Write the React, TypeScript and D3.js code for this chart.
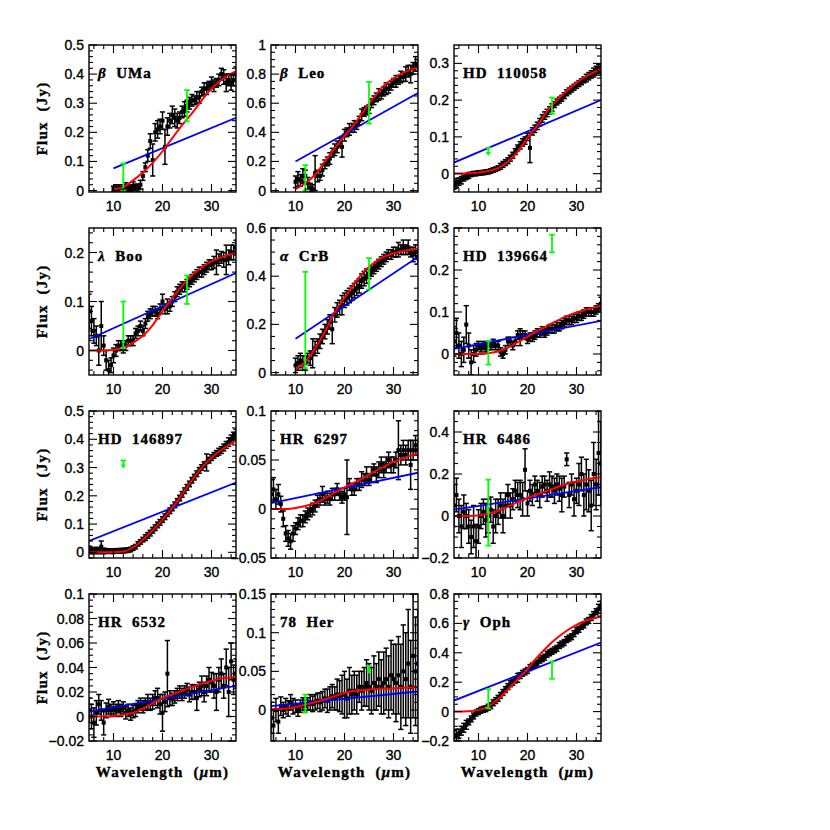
import React from 'react';
import * as d3 from 'd3';

// wavelength grid of the IRS spectra (micron)
const WL = [
  5, 5.5, 6, 6.5, 7, 7.5, 8, 8.5, 9, 9.5,
  10, 10.5, 11, 11.5, 12, 12.5, 13, 13.5, 14, 14.5,
  15, 15.5, 16, 16.5, 17, 17.5, 18, 18.5, 19, 19.5,
  20, 20.5, 21, 21.5, 22, 22.5, 23, 23.5, 24, 24.5,
  25, 25.5, 26, 26.5, 27, 27.5, 28, 28.5, 29, 29.5,
  30, 30.5, 31, 31.5, 32, 32.5, 33, 33.5, 34, 34.5,
  35,
];
// wavelengths where the red model curve is sampled
const MODEL_WL = [5, 8, 10, 12, 14, 16, 18, 20, 22, 24, 26, 28, 30, 32, 35];
// IRAS photometry bands
const IRAS_WL = [12, 25];
const X_MAJOR = [10, 20, 30];

// --- beta UMa (spectrum from 10 um)
const umaFlux = [
  0.005, 0.008, 0.01, 0.005, 0.008, 0.012, 0.01, 0.008, 0.015, 0.012,
  0.01, 0.02, 0.05, 0.08, 0.12, 0.17, 0.105, 0.2, 0.21, 0.22,
  0.24, 0.15, 0.22, 0.24, 0.26, 0.25, 0.24, 0.25, 0.27, 0.28,
  0.29, 0.3, 0.31, 0.31, 0.32, 0.32, 0.34, 0.35, 0.35, 0.36,
  0.37, 0.36, 0.37, 0.38, 0.4, 0.39, 0.37, 0.38, 0.37, 0.38,
  0.4,
];
const umaErr = [
  0.01, 0.012, 0.01, 0.01, 0.012, 0.015, 0.01, 0.012, 0.015, 0.01,
  0.012, 0.015, 0.015, 0.015, 0.02, 0.025, 0.055, 0.03, 0.03, 0.025,
  0.03, 0.06, 0.03, 0.025, 0.03, 0.03, 0.025, 0.02, 0.02, 0.025,
  0.02, 0.02, 0.02, 0.015, 0.02, 0.02, 0.015, 0.02, 0.02, 0.015,
  0.02, 0.02, 0.015, 0.02, 0.02, 0.025, 0.03, 0.02, 0.025, 0.02,
  0.025,
];
const umaModel = [0.005, 0.012, 0.035, 0.062, 0.095, 0.135, 0.18, 0.225, 0.265, 0.31, 0.35, 0.38, 0.41];
const umaLine = [0.076, 0.25];
const umaIras = [[0, 0.093], [0.238, 0.345]];

// --- beta Leo (from 10 um)
const leoFlux = [
  0.06, 0.08, 0.07, 0.1, 0.1, 0.05, 0.02, 0.01, 0.12, 0.1,
  0.1, 0.14, 0.18, 0.2, 0.22, 0.26, 0.28, 0.3, 0.33, 0.3,
  0.38, 0.4, 0.42, 0.43, 0.44, 0.45, 0.48, 0.52, 0.54, 0.55,
  0.56, 0.6, 0.62, 0.64, 0.66, 0.66, 0.68, 0.7, 0.7, 0.72,
  0.74, 0.75, 0.76, 0.78, 0.78, 0.8, 0.82, 0.8, 0.84, 0.87,
  0.86,
];
const leoErr = [
  0.04, 0.05, 0.04, 0.05, 0.04, 0.04, 0.03, 0.03, 0.12, 0.04,
  0.03, 0.04, 0.03, 0.03, 0.04, 0.03, 0.04, 0.04, 0.03, 0.07,
  0.04, 0.03, 0.04, 0.03, 0.04, 0.03, 0.03, 0.04, 0.03, 0.03,
  0.03, 0.03, 0.03, 0.03, 0.04, 0.03, 0.03, 0.04, 0.03, 0.03,
  0.03, 0.04, 0.03, 0.04, 0.03, 0.05, 0.04, 0.06, 0.04, 0.05,
  0.04,
];
const leoModel = [0.01, 0.05, 0.11, 0.2, 0.29, 0.375, 0.455, 0.55, 0.64, 0.72, 0.77, 0.81, 0.845];
const leoLine = [0.2, 0.67];
const leoIras = [[0, 0.174], [0.46, 0.746]];

// --- HD 110058
const hd110058Flux = [
  -0.03, -0.025, -0.022, -0.018, -0.012, -0.008, -0.005, -0.002, 0, 0,
  0.002, 0.002, 0.003, 0.004, 0.005, 0.007, 0.01, 0.012, 0.015, 0.02,
  0.025, 0.03, 0.035, 0.042, 0.05, 0.06, 0.07, 0.077, 0.085, 0.09,
  0.1, 0.07, 0.115, 0.122, 0.13, 0.14, 0.15, 0.158, 0.165, 0.172,
  0.18, 0.188, 0.195, 0.2, 0.205, 0.212, 0.22, 0.225, 0.23, 0.235,
  0.24, 0.245, 0.25, 0.255, 0.26, 0.265, 0.27, 0.275, 0.28, 0.285,
  0.28,
];
const hd110058Err = [
  0.012, 0.012, 0.01, 0.01, 0.008, 0.008, 0.008, 0.006, 0.006, 0.006,
  0.006, 0.006, 0.006, 0.006, 0.006, 0.006, 0.006, 0.006, 0.006, 0.008,
  0.008, 0.008, 0.008, 0.008, 0.008, 0.008, 0.008, 0.01, 0.01, 0.01,
  0.01, 0.04, 0.01, 0.01, 0.01, 0.01, 0.01, 0.01, 0.01, 0.01,
  0.01, 0.008, 0.008, 0.008, 0.008, 0.008, 0.008, 0.008, 0.008, 0.008,
  0.008, 0.008, 0.008, 0.008, 0.01, 0.01, 0.01, 0.012, 0.012, 0.012,
  0.012,
];
const hd110058Model = [0, 0.001, 0.003, 0.007, 0.015, 0.033, 0.06, 0.097, 0.13, 0.17, 0.2, 0.225, 0.247, 0.265, 0.285];
const hd110058Line = [0.03, 0.2];
const hd110058Iras = [[0.07], [0.163, 0.207]];

// --- lambda Boo
const booFlux = [
  0.08, 0.06, 0.04, 0.03, 0, 0.05, 0.01, -0.02, -0.04, -0.03,
  -0.01, 0, 0.01, 0.01, 0.005, 0.01, 0.02, 0.02, 0.02, 0.035,
  0.04, 0.05, 0.04, 0.055, 0.07, 0.075, 0.08, 0.08, 0.075, 0.085,
  0.1, 0.085, 0.09, 0.09, 0.1, 0.11, 0.12, 0.125, 0.13, 0.13,
  0.135, 0.14, 0.145, 0.15, 0.155, 0.16, 0.16, 0.165, 0.17, 0.175,
  0.175, 0.18, 0.18, 0.185, 0.19, 0.185, 0.185, 0.19, 0.2, 0.2,
  0.21,
];
const booErr = [
  0.035, 0.03, 0.025, 0.02, 0.03, 0.05, 0.02, 0.02, 0.02, 0.015,
  0.015, 0.012, 0.01, 0.01, 0.01, 0.01, 0.01, 0.01, 0.01, 0.01,
  0.01, 0.01, 0.01, 0.01, 0.01, 0.01, 0.01, 0.01, 0.01, 0.01,
  0.015, 0.01, 0.015, 0.01, 0.01, 0.01, 0.01, 0.01, 0.01, 0.01,
  0.01, 0.01, 0.01, 0.01, 0.01, 0.01, 0.01, 0.01, 0.01, 0.01,
  0.01, 0.012, 0.025, 0.012, 0.012, 0.015, 0.03, 0.015, 0.015, 0.015,
  0.015,
];
const booModel = [0, 0, 0.001, 0.006, 0.016, 0.03, 0.052, 0.08, 0.107, 0.132, 0.153, 0.17, 0.182, 0.19, 0.2];
const booLine = [0.023, 0.158];
const booIras = [[0.005, 0.1], [0.095, 0.153]];

// --- alpha CrB (from 10 um)
const crbFlux = [
  0.03, 0.04, 0.05, 0.04, 0.04, 0.06, 0.06, 0.08, 0.1, 0.11,
  0.13, 0.15, 0.17, 0.19, 0.21, 0.18, 0.24, 0.26, 0.27, 0.28,
  0.3, 0.31, 0.32, 0.33, 0.34, 0.35, 0.36, 0.38, 0.39, 0.4,
  0.41, 0.42, 0.43, 0.44, 0.45, 0.46, 0.47, 0.48, 0.49, 0.49,
  0.5, 0.5, 0.51, 0.51, 0.52, 0.51, 0.52, 0.5, 0.49, 0.5,
  0.48,
];
const crbErr = [
  0.03, 0.03, 0.03, 0.03, 0.03, 0.02, 0.03, 0.06, 0.03, 0.03,
  0.03, 0.03, 0.03, 0.03, 0.03, 0.06, 0.03, 0.03, 0.03, 0.04,
  0.03, 0.03, 0.03, 0.03, 0.03, 0.03, 0.03, 0.03, 0.03, 0.03,
  0.02, 0.02, 0.02, 0.02, 0.02, 0.02, 0.02, 0.02, 0.02, 0.02,
  0.02, 0.02, 0.03, 0.02, 0.03, 0.02, 0.03, 0.02, 0.03, 0.03,
  0.03,
];
const crbModel = [0.014, 0.045, 0.1, 0.17, 0.25, 0.31, 0.37, 0.42, 0.455, 0.48, 0.495, 0.505, 0.513];
const crbLine = [0.14, 0.48];
const crbIras = [[0.018, 0.418], [0.345, 0.475]];

// --- HD 139664
const hd139664Flux = [
  0.03, 0.05, 0.02, 0, 0.01, 0.07, 0.02, -0.02, 0, 0.01,
  0.02, 0.015, 0.02, 0.015, 0.02, 0.02, 0.025, 0.02, 0.02, 0.005,
  0, 0.01, 0.03, 0.03, 0.02, 0.03, 0.045, 0.04, 0.045, 0.045,
  0.035, 0.04, 0.04, 0.045, 0.05, 0.05, 0.055, 0.05, 0.055, 0.06,
  0.06, 0.06, 0.065, 0.065, 0.07, 0.075, 0.08, 0.08, 0.08, 0.085,
  0.085, 0.09, 0.09, 0.095, 0.1, 0.1, 0.1, 0.1, 0.105, 0.11,
  0.12,
];
const hd139664Err = [
  0.035, 0.035, 0.03, 0.03, 0.03, 0.045, 0.03, 0.03, 0.02, 0.015,
  0.01, 0.01, 0.01, 0.01, 0.01, 0.01, 0.01, 0.01, 0.01, 0.01,
  0.01, 0.01, 0.01, 0.01, 0.01, 0.01, 0.01, 0.02, 0.01, 0.01,
  0.01, 0.01, 0.01, 0.01, 0.01, 0.01, 0.01, 0.01, 0.01, 0.01,
  0.01, 0.01, 0.01, 0.01, 0.01, 0.01, 0.01, 0.01, 0.01, 0.01,
  0.01, 0.01, 0.01, 0.01, 0.01, 0.01, 0.01, 0.01, 0.01, 0.01,
  0.015,
];
const hd139664Model = [0, 0, 0, 0.002, 0.006, 0.015, 0.028, 0.041, 0.055, 0.067, 0.079, 0.09, 0.099, 0.106, 0.115];
const hd139664Line = [0.012, 0.079];
const hd139664Iras = [[-0.025, 0.031], [0.242, 0.284]];

// --- HD 146897
const hd146897Flux = [
  0.01, 0.005, 0.005, 0.008, 0.005, 0.02, 0.005, 0.004, 0.005, 0.004,
  0.004, 0.005, 0.005, 0.006, 0.006, 0.007, 0.008, 0.01, 0.015, 0.02,
  0.03, 0.037, 0.045, 0.052, 0.06, 0.068, 0.078, 0.087, 0.097, 0.106,
  0.116, 0.126, 0.137, 0.147, 0.157, 0.168, 0.18, 0.192, 0.205, 0.218,
  0.23, 0.242, 0.255, 0.266, 0.278, 0.29, 0.3, 0.31, 0.318, 0.326,
  0.335, 0.343, 0.35, 0.356, 0.362, 0.371, 0.38, 0.39, 0.4, 0.41,
  0.42,
];
const hd146897Err = [
  0.012, 0.01, 0.01, 0.01, 0.01, 0.02, 0.01, 0.008, 0.008, 0.008,
  0.008, 0.008, 0.008, 0.008, 0.008, 0.008, 0.008, 0.008, 0.008, 0.008,
  0.008, 0.008, 0.008, 0.01, 0.01, 0.01, 0.01, 0.01, 0.01, 0.01,
  0.01, 0.01, 0.01, 0.01, 0.01, 0.01, 0.01, 0.01, 0.01, 0.01,
  0.01, 0.01, 0.01, 0.01, 0.01, 0.01, 0.01, 0.01, 0.03, 0.01,
  0.01, 0.01, 0.01, 0.012, 0.012, 0.012, 0.012, 0.015, 0.015, 0.015,
  0.015,
];
const hd146897Model = [0, 0, 0.001, 0.003, 0.018, 0.045, 0.078, 0.116, 0.157, 0.205, 0.255, 0.3, 0.335, 0.362, 0.395];
const hd146897Line = [0.04, 0.247];
const hd146897Iras = [[0.325], null];

// --- HR 6297
const hr6297Flux = [
  0.015, 0.02, 0.01, 0.015, 0.005, -0.01, -0.025, -0.03, -0.033, -0.025,
  -0.02, -0.015, -0.012, -0.012, -0.008, -0.005, -0.002, 0, 0.003, 0.008,
  0.01, 0.015, 0.01, 0.012, 0.01, 0.015, 0.015, 0.02, 0.015, 0.012,
  0.015, 0.012, 0.025, 0.02, 0.02, 0.025, 0.025, 0.03, 0.03, 0.035,
  0.03, 0.035, 0.04, 0.035, 0.04, 0.045, 0.04, 0.045, 0.05, 0.045,
  0.045, 0.05, 0.06, 0.055, 0.06, 0.055, 0.06, 0.045, 0.06, 0.065,
  0.06,
];
const hr6297Err = [
  0.015, 0.012, 0.01, 0.01, 0.008, 0.008, 0.008, 0.008, 0.008, 0.008,
  0.006, 0.006, 0.006, 0.006, 0.006, 0.006, 0.006, 0.006, 0.006, 0.006,
  0.006, 0.008, 0.006, 0.006, 0.006, 0.006, 0.006, 0.006, 0.006, 0.006,
  0.006, 0.038, 0.006, 0.006, 0.006, 0.006, 0.006, 0.008, 0.006, 0.008,
  0.006, 0.008, 0.006, 0.008, 0.008, 0.008, 0.008, 0.008, 0.008, 0.008,
  0.008, 0.008, 0.03, 0.01, 0.01, 0.01, 0.01, 0.025, 0.01, 0.01,
  0.01,
];
const hr6297Model = [0, 0, 0.001, 0.003, 0.006, 0.011, 0.017, 0.022, 0.027, 0.032, 0.038, 0.043, 0.048, 0.052, 0.057];
const hr6297Line = [0.006, 0.037];
const hr6297Iras = [null, null];

// --- HR 6486
const hr6486Flux = [
  0.05, 0.1, 0, -0.05, 0.02, 0, -0.05, -0.1, -0.05, -0.12,
  -0.05, 0, 0.02, -0.02, 0, 0.03, -0.05, 0, 0.02, 0.05,
  0, 0.05, 0.1, 0.05, 0.08, 0.12, 0.1, 0.1, 0.08, 0.22,
  0.06, 0.12, 0.1, 0.15, 0.12, 0.1, 0.14, 0.15, 0.12, 0.15,
  0.14, 0.12, 0.15, 0.13, 0.1, 0.14, 0.27, 0.1, 0.15, 0.08,
  0.12, 0.15, 0.2, 0.1, 0.15, 0.12, 0.05, 0.2, 0.15, 0.3,
  0.25,
];
const hr6486Err = [
  0.1, 0.08, 0.08, 0.1, 0.08, 0.06, 0.08, 0.08, 0.1, 0.08,
  0.08, 0.06, 0.06, 0.08, 0.08, 0.06, 0.08, 0.08, 0.06, 0.06,
  0.08, 0.06, 0.05, 0.06, 0.05, 0.05, 0.06, 0.07, 0.08, 0.1,
  0.06, 0.05, 0.05, 0.04, 0.05, 0.06, 0.05, 0.04, 0.05, 0.06,
  0.05, 0.06, 0.05, 0.06, 0.08, 0.05, 0.03, 0.06, 0.05, 0.08,
  0.06, 0.1, 0.08, 0.1, 0.12, 0.1, 0.12, 0.15, 0.12, 0.2,
  0.2,
];
const hr6486Model = [0, 0, 0.003, 0.011, 0.024, 0.045, 0.066, 0.086, 0.103, 0.12, 0.137, 0.152, 0.164, 0.174, 0.184];
const hr6486Line = [0.03, 0.137];
const hr6486Iras = [[-0.141, 0.173], null];

// --- HR 6532
const hr6532Flux = [
  0.005, 0, -0.005, 0.003, 0.01, 0.005, -0.005, 0.005, 0.008, 0.005,
  0.007, 0.005, 0.008, 0.005, 0.007, 0.003, 0.005, 0.002, 0.004, 0.005,
  0.008, 0.01, 0.008, 0.01, 0.012, 0.01, 0.012, 0.015, 0.015, 0.01,
  0.003, 0.012, 0.035, 0.015, 0.014, 0.016, 0.018, 0.02, 0.018, 0.02,
  0.022, 0.018, 0.02, 0.02, 0.015, 0.022, 0.025, 0.02, 0.025, 0.03,
  0.028, 0.025, 0.02, 0.03, 0.035, 0.025, 0.04, 0.02, 0.045, 0.03,
  0.035,
];
const hr6532Err = [
  0.01, 0.01, 0.012, 0.01, 0.008, 0.008, 0.01, 0.006, 0.006, 0.005,
  0.005, 0.005, 0.005, 0.005, 0.005, 0.005, 0.005, 0.005, 0.005, 0.005,
  0.005, 0.005, 0.005, 0.005, 0.006, 0.005, 0.006, 0.006, 0.008, 0.008,
  0.015, 0.008, 0.027, 0.006, 0.005, 0.005, 0.005, 0.005, 0.005, 0.005,
  0.005, 0.006, 0.006, 0.006, 0.01, 0.006, 0.008, 0.008, 0.008, 0.01,
  0.008, 0.01, 0.015, 0.01, 0.012, 0.01, 0.015, 0.02, 0.015, 0.012,
  0.012,
];
const hr6532Model = [0, 0, 0.0005, 0.0015, 0.003, 0.0065, 0.011, 0.015, 0.018, 0.021, 0.024, 0.027, 0.029, 0.031, 0.032];
const hr6532Line = [0.004, 0.025];
const hr6532Iras = [null, null];

// --- 78 Her
const her78Flux = [
  -0.01, -0.02, 0, -0.015, 0.005, 0, 0.005, 0.002, 0.01, 0.005,
  0.005, 0, 0.005, 0.008, 0.005, 0.008, 0.01, 0.008, 0.01, 0.012,
  0.01, 0.012, 0.015, 0.012, 0.015, 0.018, 0.015, 0.02, 0.018, 0.02,
  0.02, 0.015, 0.025, 0.02, 0.025, 0.02, 0.03, 0.025, 0.03, 0.035,
  0.03, 0.025, 0.035, 0.03, 0.04, 0.03, 0.035, 0.04, 0.03, 0.045,
  0.04, 0.035, 0.045, 0.03, 0.05, 0.04, 0.06, 0.03, 0.07, 0.05,
  0.06,
];
const her78Err = [
  0.02, 0.02, 0.015, 0.015, 0.012, 0.01, 0.01, 0.01, 0.01, 0.01,
  0.008, 0.008, 0.008, 0.008, 0.008, 0.008, 0.01, 0.01, 0.01, 0.01,
  0.012, 0.012, 0.012, 0.015, 0.015, 0.015, 0.015, 0.02, 0.02, 0.025,
  0.03, 0.025, 0.03, 0.025, 0.025, 0.025, 0.02, 0.025, 0.025, 0.03,
  0.03, 0.03, 0.035, 0.03, 0.035, 0.035, 0.04, 0.04, 0.04, 0.045,
  0.045, 0.05, 0.05, 0.055, 0.06, 0.06, 0.07, 0.06, 0.08, 0.07,
  0.07,
];
const her78Model = [0.001, 0.002, 0.004, 0.007, 0.01, 0.014, 0.018, 0.022, 0.025, 0.026, 0.027, 0.028, 0.028, 0.029, 0.029];
const her78Line = [0.005, 0.024];
const her78Iras = [[-0.003, 0.02], [0.057]];

// --- gamma Oph
const ophFlux = [
  -0.17, -0.16, -0.15, -0.13, -0.11, -0.09, -0.07, -0.05, -0.03, -0.01,
  0, 0.01, 0.015, 0.02, 0.03, 0.04, 0.06, 0.075, 0.09, 0.11,
  0.13, 0.15, 0.17, 0.19, 0.2, 0.215, 0.23, 0.245, 0.26, 0.27,
  0.28, 0.3, 0.31, 0.32, 0.33, 0.35, 0.36, 0.37, 0.39, 0.4,
  0.41, 0.42, 0.43, 0.45, 0.46, 0.47, 0.49, 0.5, 0.51, 0.53,
  0.55, 0.56, 0.58, 0.59, 0.61, 0.62, 0.64, 0.66, 0.68, 0.7,
  0.72,
];
const ophErr = [
  0.04, 0.04, 0.03, 0.03, 0.03, 0.03, 0.02, 0.02, 0.02, 0.02,
  0.02, 0.02, 0.02, 0.02, 0.02, 0.02, 0.02, 0.02, 0.02, 0.02,
  0.02, 0.02, 0.02, 0.02, 0.02, 0.02, 0.03, 0.02, 0.02, 0.02,
  0.02, 0.02, 0.02, 0.02, 0.02, 0.02, 0.02, 0.02, 0.02, 0.02,
  0.02, 0.02, 0.02, 0.02, 0.02, 0.02, 0.02, 0.02, 0.02, 0.02,
  0.02, 0.02, 0.02, 0.02, 0.02, 0.02, 0.02, 0.02, 0.02, 0.03,
  0.03,
];
const ophModel = [0, 0.002, 0.01, 0.035, 0.085, 0.15, 0.22, 0.29, 0.37, 0.44, 0.5, 0.55, 0.59, 0.62, 0.645];
const ophLine = [0.075, 0.47];
const ophIras = [[0.022, 0.152], [0.223, 0.34]];

// panel table: [greek, rest], y range, major / minor tick step
const PANELS = [
  { key: 'uma', greek: 'β', label: 'UMa', y: [-0.005, 0.5], major: 0.1, minor: 0.02, flux: umaFlux, err: umaErr, model: umaModel, line: umaLine, iras: umaIras },
  { key: 'leo', greek: 'β', label: 'Leo', y: [-0.01, 1], major: 0.2, minor: 0.05, flux: leoFlux, err: leoErr, model: leoModel, line: leoLine, iras: leoIras },
  { key: 'hd110058', greek: '', label: 'HD  110058', y: [-0.05, 0.35], major: 0.1, minor: 0.02, flux: hd110058Flux, err: hd110058Err, model: hd110058Model, line: hd110058Line, iras: hd110058Iras },
  { key: 'boo', greek: 'λ', label: 'Boo', y: [-0.05, 0.25], major: 0.1, minor: 0.02, flux: booFlux, err: booErr, model: booModel, line: booLine, iras: booIras },
  { key: 'crb', greek: 'α', label: 'CrB', y: [-0.01, 0.6], major: 0.2, minor: 0.05, flux: crbFlux, err: crbErr, model: crbModel, line: crbLine, iras: crbIras },
  { key: 'hd139664', greek: '', label: 'HD  139664', y: [-0.05, 0.3], major: 0.1, minor: 0.02, flux: hd139664Flux, err: hd139664Err, model: hd139664Model, line: hd139664Line, iras: hd139664Iras },
  { key: 'hd146897', greek: '', label: 'HD  146897', y: [-0.02, 0.5], major: 0.1, minor: 0.02, flux: hd146897Flux, err: hd146897Err, model: hd146897Model, line: hd146897Line, iras: hd146897Iras },
  { key: 'hr6297', greek: '', label: 'HR  6297', y: [-0.05, 0.1], major: 0.05, minor: 0.01, flux: hr6297Flux, err: hr6297Err, model: hr6297Model, line: hr6297Line, iras: hr6297Iras },
  { key: 'hr6486', greek: '', label: 'HR  6486', y: [-0.2, 0.5], major: 0.2, minor: 0.05, flux: hr6486Flux, err: hr6486Err, model: hr6486Model, line: hr6486Line, iras: hr6486Iras },
  { key: 'hr6532', greek: '', label: 'HR  6532', y: [-0.02, 0.1], major: 0.02, minor: 0.005, flux: hr6532Flux, err: hr6532Err, model: hr6532Model, line: hr6532Line, iras: hr6532Iras },
  { key: 'her78', greek: '', label: '78  Her', y: [-0.04, 0.15], major: 0.05, minor: 0.01, flux: her78Flux, err: her78Err, model: her78Model, line: her78Line, iras: her78Iras },
  { key: 'oph', greek: 'γ', label: 'Oph', y: [-0.2, 0.8], major: 0.2, minor: 0.05, flux: ophFlux, err: ophErr, model: ophModel, line: ophLine, iras: ophIras },
];

const COL_X = [89, 271, 454];
const ROW_Y = [45, 228, 411, 594];
const PW = 147;
const PH = 147;

const TICK_FONT = '"Liberation Sans", Arial, sans-serif';
const TITLE_FONT = '"Liberation Serif", "Times New Roman", serif';
const GREEN = '#00ff00';

function ticksBy(dom: number[], step: number) {
  const a = Math.ceil(dom[0] / step - 1e-6);
  const b = Math.floor(dom[1] / step + 1e-6);
  return d3.range(a, b + 1).map((k) => +(k * step).toFixed(6));
}

const fmt = d3.format('~g');

function Panel({ p, left, top, yTitle, xTitle }: any) {
  const x = d3.scaleLinear().domain([5, 35]).range([left, left + PW]);
  const y = d3.scaleLinear().domain(p.y).range([top + PH, top]);
  const clipId = 'clip-' + p.key;

  const off = WL.length - p.flux.length;
  const pts = p.flux.map((f: number, i: number) => ({ w: WL[off + i], f, e: p.err[i] ?? 0.01 }));
  const moff = MODEL_WL.length - p.model.length;
  const modelPts: [number, number][] = p.model.map((v: number, i: number) => [MODEL_WL[moff + i], v]);
  const linePts: [number, number][] = [[pts[0].w, p.line[0]], [35, p.line[1]]];

  const curve = d3.line<[number, number]>().x((d) => x(d[0])).y((d) => y(d[1])).curve(d3.curveMonotoneX);
  const straight = d3.line<[number, number]>().x((d) => x(d[0])).y((d) => y(d[1]));

  const yMaj = ticksBy(p.y, p.major);
  const yMin = ticksBy(p.y, p.minor).filter((v) => !yMaj.some((m) => Math.abs(m - v) < 1e-9));
  const xMin = d3.range(6, 35, 2).filter((v) => v % 10 !== 0);

  const cap = 2.6;
  const bottom = top + PH;
  const right = left + PW;

  return (
    <g>
      <defs>
        <clipPath id={clipId}>
          <rect x={left} y={top} width={PW} height={PH} />
        </clipPath>
      </defs>
      <g clipPath={`url(#${clipId})`}>
        <g stroke="#000" strokeWidth={1.5}>
          {pts.map((d: any, i: number) => {
            const cx = x(d.w);
            const y0 = y(d.f - d.e);
            const y1 = y(d.f + d.e);
            return (
              <g key={i}>
                <line x1={cx} x2={cx} y1={y0} y2={y1} />
                <line x1={cx - cap} x2={cx + cap} y1={y0} y2={y0} />
                <line x1={cx - cap} x2={cx + cap} y1={y1} y2={y1} />
              </g>
            );
          })}
        </g>
        {pts.map((d: any, i: number) => (
          <rect key={i} x={x(d.w) - 2} y={y(d.f) - 2} width={4} height={4} fill="#000" />
        ))}
        <path d={straight(linePts) || ''} fill="none" stroke="#0000ff" strokeWidth={1.8} />
        <path d={curve(modelPts) || ''} fill="none" stroke="#ff0000" strokeWidth={2} />
        {p.iras.map((b: number[] | null, i: number) => {
          if (!b) return null;
          const cx = x(IRAS_WL[i]);
          if (b.length === 2) {
            const y0 = y(b[0]);
            const y1 = y(b[1]);
            return (
              <g key={i} stroke={GREEN} strokeWidth={1.8}>
                <line x1={cx} x2={cx} y1={y0} y2={y1} />
                <line x1={cx - 2.8} x2={cx + 2.8} y1={y0} y2={y0} />
                <line x1={cx - 2.8} x2={cx + 2.8} y1={y1} y2={y1} />
              </g>
            );
          }
          const yv = y(b[0]);
          return (
            <g key={i}>
              <line x1={cx - 2.8} x2={cx + 2.8} y1={yv} y2={yv} stroke={GREEN} strokeWidth={1.8} />
              <line x1={cx} x2={cx} y1={yv} y2={yv + 5} stroke={GREEN} strokeWidth={1.8} />
              <path d={`M${cx - 2.8},${yv + 4}L${cx + 2.8},${yv + 4}L${cx},${yv + 8}Z`} fill={GREEN} />
            </g>
          );
        })}
      </g>

      <rect x={left} y={top} width={PW} height={PH} fill="none" stroke="#000" strokeWidth={1.4} />
      <g stroke="#000" strokeWidth={1.1}>
        {X_MAJOR.map((v) => (
          <g key={'xM' + v}>
            <line x1={x(v)} x2={x(v)} y1={bottom} y2={bottom - 8} />
            <line x1={x(v)} x2={x(v)} y1={top} y2={top + 8} />
          </g>
        ))}
        {xMin.map((v) => (
          <g key={'xm' + v}>
            <line x1={x(v)} x2={x(v)} y1={bottom} y2={bottom - 4} />
            <line x1={x(v)} x2={x(v)} y1={top} y2={top + 4} />
          </g>
        ))}
        {yMaj.map((v) => (
          <g key={'yM' + v}>
            <line x1={left} x2={left + 8} y1={y(v)} y2={y(v)} />
            <line x1={right} x2={right - 8} y1={y(v)} y2={y(v)} />
          </g>
        ))}
        {yMin.map((v) => (
          <g key={'ym' + v}>
            <line x1={left} x2={left + 4} y1={y(v)} y2={y(v)} />
            <line x1={right} x2={right - 4} y1={y(v)} y2={y(v)} />
          </g>
        ))}
      </g>

      <g fontFamily={TICK_FONT} fontSize={14} fill="#000" stroke="#000" strokeWidth={0.35}>
        {X_MAJOR.map((v) => (
          <text key={'xl' + v} x={x(v)} y={bottom + 19} textAnchor="middle">{v}</text>
        ))}
        {yMaj.map((v) => (
          <text key={'yl' + v} x={left - 5} y={y(v)} dy="0.36em" textAnchor="end">{fmt(v)}</text>
        ))}
      </g>

      <text x={left + 9} y={top + 33} fontFamily={TITLE_FONT} fontWeight="bold" fontSize={15}
        letterSpacing={1} stroke="#000" strokeWidth={0.4} style={{ whiteSpace: 'pre' }}>
        {p.greek ? <tspan fontStyle="italic">{p.greek + '  '}</tspan> : null}
        {p.label}
      </text>

      {yTitle ? (
        <text transform={`translate(${left - 42},${top + PH / 2}) rotate(-90)`} textAnchor="middle"
          fontFamily={TITLE_FONT} fontWeight="bold" fontSize={15} letterSpacing={1.2}
          stroke="#000" strokeWidth={0.4} style={{ whiteSpace: 'pre' }}>
          {'Flux  (Jy)'}
        </text>
      ) : null}
      {xTitle ? (
        <text x={left + PW / 2} y={bottom + 36} textAnchor="middle" fontFamily={TITLE_FONT}
          fontWeight="bold" fontSize={15} letterSpacing={1.2} stroke="#000" strokeWidth={0.4}
          style={{ whiteSpace: 'pre' }}>
          {'Wavelength  ('}<tspan fontStyle="italic">μ</tspan>{'m)'}
        </text>
      ) : null}
    </g>
  );
}

export default function App() {
  return (
    <div style={{ position: 'absolute', left: 0, top: 0, width: 830, height: 830, background: '#fff' }}>
      <svg width={830} height={830} viewBox="0 0 830 830">
        <rect width={830} height={830} fill="#fff" />
        {PANELS.map((p, i) => (
          <Panel key={p.key} p={p} left={COL_X[i % 3]} top={ROW_Y[Math.floor(i / 3)]}
            yTitle={i % 3 === 0} xTitle={i >= 9} />
        ))}
      </svg>
    </div>
  );
}
